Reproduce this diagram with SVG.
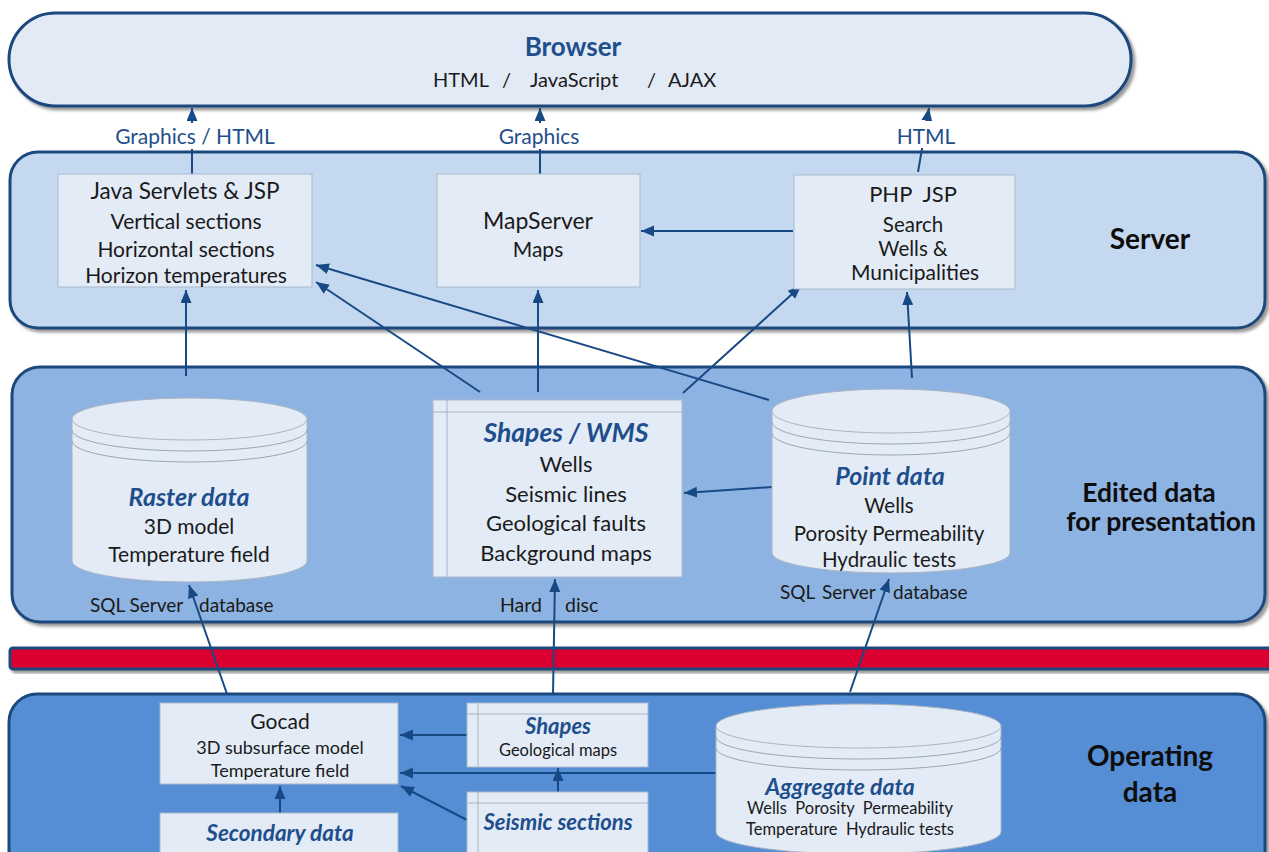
<svg xmlns="http://www.w3.org/2000/svg" width="1269" height="852" viewBox="0 0 1269 852">
  <style>
    .band { stroke: #1f497d; stroke-width: 3; filter: url(#shadow); }
    .box { fill: #e3ebf6; stroke: #a9b9cc; stroke-width: 1; }
    .drum { fill: #e3ebf6; stroke: #aab4c2; stroke-width: 1; }
    .ring { fill: none; stroke: #9aa6b6; stroke-width: 1; }
    .inner { fill: none; stroke: #a9b4c4; stroke-width: 1; }
    .wire { fill: none; stroke: #174a85; stroke-width: 2; marker-end: url(#head); }
    text { font-family: Lato, "Liberation Sans", sans-serif; fill: #1a1a1a; }
    .c { text-anchor: middle; }
    .title { font-weight: bold; font-style: italic; fill: #1f4e8c; }
    .layer { font-weight: bold; fill: #0d0d0d; }
    .lbl { fill: #1f4e8c; }
  </style>
  <defs>
    <filter id="shadow" x="-5%" y="-10%" width="110%" height="130%">
      <feDropShadow dx="3" dy="3" stdDeviation="1.5" flood-color="#555" flood-opacity="0.6"/>
    </filter>
    <marker id="head" markerUnits="userSpaceOnUse" markerWidth="14" markerHeight="12" refX="13" refY="5.5" orient="auto">
      <path d="M0,0 L13,5.5 L0,11 Z" fill="#174a85"/>
    </marker>
  </defs>

  <!-- layer bands -->
  <g id="bands">
    <rect id="browser-band" class="band" x="9" y="13" width="1122" height="93" rx="46.5" fill="#e2eaf5"/>
    <rect id="server-band" class="band" x="10" y="152" width="1255" height="176" rx="28" fill="#c4d8ef"/>
    <rect id="edited-band" class="band" x="12" y="367" width="1253" height="255" rx="28" fill="#8db3e2"/>
    <rect id="divider" class="band" x="10" y="648" width="1262" height="21" rx="3" fill="#dc0032"/>
    <rect id="operating-band" class="band" x="9" y="694" width="1256" height="200" rx="28" fill="#558ed5"/>
  </g>

  <!-- connectors -->
  <g id="connectors">
    <line class="wire" x1="192" y1="174" x2="192" y2="108"/>
    <line class="wire" x1="540" y1="174" x2="540" y2="108"/>
    <line class="wire" x1="918" y1="172" x2="929" y2="108"/>
    <line class="wire" x1="793" y1="231" x2="641" y2="231"/>
    <line class="wire" x1="186" y1="376" x2="186" y2="290"/>
    <line class="wire" x1="480" y1="392" x2="316" y2="282"/>
    <line class="wire" x1="538" y1="392" x2="538" y2="290"/>
    <line class="wire" x1="683" y1="393" x2="801" y2="286"/>
    <line class="wire" x1="769" y1="400" x2="316" y2="265"/>
    <line class="wire" x1="912" y1="378" x2="907" y2="292"/>
    <line class="wire" x1="772" y1="487" x2="684" y2="493"/>
    <line class="wire" x1="227" y1="694" x2="189" y2="585"/>
    <line class="wire" x1="553" y1="694" x2="555" y2="579"/>
    <line class="wire" x1="850" y1="692" x2="889" y2="579"/>
    <line class="wire" x1="467" y1="735" x2="400" y2="735"/>
    <line class="wire" x1="716" y1="773" x2="400" y2="773"/>
    <line class="wire" x1="558" y1="792" x2="558" y2="768"/>
    <line class="wire" x1="467" y1="820" x2="401" y2="786"/>
    <line class="wire" x1="280" y1="813" x2="280" y2="786"/>
  </g>

  <!-- browser -->
  <g id="browser">
    <text class="c" x="573" y="56" font-size="26" font-weight="bold" style="fill:#1f4e8c">Browser</text>
    <text x="433" y="87" font-size="20">HTML</text>
    <text x="502" y="87" font-size="20">/</text>
    <text x="530" y="87" font-size="20">JavaScript</text>
    <text x="647" y="87" font-size="20">/</text>
    <text x="668" y="87" font-size="20">AJAX</text>
  </g>

  <!-- flow labels between browser and server -->
  <g id="flow-labels">
    <rect x="112" y="123" width="166" height="26" fill="#ffffff"/>
    <text class="c lbl" x="195" y="144" font-size="21">Graphics / HTML</text>
    <rect x="494" y="123" width="92" height="26" fill="#ffffff"/>
    <text class="c lbl" x="539" y="144" font-size="21">Graphics</text>
    <rect x="891" y="121" width="70" height="27" fill="#ffffff"/>
    <text class="c lbl" x="926" y="144" font-size="21">HTML</text>
  </g>

  <!-- server tier -->
  <g id="java-servlets">
    <rect class="box" x="58" y="174" width="254" height="113"/>
    <text class="c" x="185" y="199" font-size="22.5">Java Servlets &amp; JSP</text>
    <text class="c" x="186" y="229" font-size="21">Vertical sections</text>
    <text class="c" x="186" y="257" font-size="21">Horizontal sections</text>
    <text class="c" x="186" y="283" font-size="21">Horizon temperatures</text>
  </g>
  <g id="mapserver">
    <rect class="box" x="437" y="174" width="203" height="113"/>
    <text class="c" x="538" y="229" font-size="23">MapServer</text>
    <text class="c" x="538" y="257" font-size="21">Maps</text>
  </g>
  <g id="php-jsp">
    <rect class="box" x="794" y="175" width="221" height="114"/>
    <text class="c" x="913" y="202" font-size="22" xml:space="preserve">PHP  JSP</text>
    <text class="c" x="913" y="232" font-size="20.5">Search</text>
    <text class="c" x="913" y="256" font-size="20.5">Wells &amp;</text>
    <text class="c" x="915" y="280" font-size="21">Municipalities</text>
  </g>
  <text class="c layer" x="1150" y="249" font-size="28">Server</text>

  <!-- edited data tier -->
  <g id="raster-data">
    <path class="drum" d="M72,419 L72,561 A117.5,21 0 0 0 307,561 L307,419 Z"/>
    <ellipse class="drum" cx="189.5" cy="419" rx="117.5" ry="21"/>
    <path class="ring" d="M72,430 A117.5,21 0 0 0 307,430 M72,441 A117.5,21 0 0 0 307,441"/>
    <text class="c title" x="189" y="506" font-size="25">Raster data</text>
    <text class="c" x="189" y="534" font-size="21">3D model</text>
    <text class="c" x="189" y="562" font-size="21">Temperature field</text>
    <text x="90" y="612" font-size="19">SQL Server</text>
    <text x="199" y="612" font-size="19">database</text>
  </g>
  <g id="shapes-wms">
    <rect class="box" x="433" y="400" width="249" height="177"/>
    <path class="inner" d="M433,412 H682 M447,400 V577"/>
    <text class="c title" x="566" y="442" font-size="26.5">Shapes / WMS</text>
    <text class="c" x="566" y="472" font-size="22">Wells</text>
    <text class="c" x="566" y="502" font-size="22">Seismic lines</text>
    <text class="c" x="566" y="531" font-size="22">Geological faults</text>
    <text class="c" x="566" y="561" font-size="22">Background maps</text>
    <text x="500" y="612" font-size="19.5">Hard</text>
    <text x="565" y="612" font-size="19.5">disc</text>
  </g>
  <g id="point-data">
    <path class="drum" d="M772,411 L772,553 A119,20 0 0 0 1010,553 L1010,411 Z"/>
    <ellipse class="drum" cx="891" cy="411" rx="119" ry="22"/>
    <path class="ring" d="M772,422 A119,22 0 0 0 1010,422 M772,433 A119,22 0 0 0 1010,433"/>
    <text class="c title" x="890" y="485" font-size="25">Point data</text>
    <text class="c" x="889" y="513" font-size="20.5">Wells</text>
    <text class="c" x="889" y="541" font-size="20.5">Porosity Permeability</text>
    <text class="c" x="889" y="567" font-size="20.5">Hydraulic tests</text>
    <text x="780" y="599" font-size="19">SQL</text>
    <text x="822" y="599" font-size="19">Server</text>
    <text x="893" y="599" font-size="19">database</text>
  </g>
  <text class="c layer" x="1149" y="502" font-size="26.5">Edited data</text>
  <text class="c layer" x="1161" y="531" font-size="26.5">for presentation</text>

  <!-- operating data tier -->
  <g id="gocad">
    <rect class="box" x="160" y="703" width="238" height="81"/>
    <text class="c" x="280" y="729" font-size="21">Gocad</text>
    <text class="c" x="280" y="754" font-size="18">3D subsurface model</text>
    <text class="c" x="280" y="777" font-size="18">Temperature field</text>
  </g>
  <g id="shapes">
    <rect class="box" x="467" y="703" width="181" height="64"/>
    <path class="inner" d="M467,714 H648 M478,703 V767"/>
    <text class="c title" x="558" y="734" font-size="22">Shapes</text>
    <text class="c" x="558" y="756" font-size="16.5">Geological maps</text>
  </g>
  <g id="seismic-sections">
    <rect class="box" x="467" y="792" width="181" height="70"/>
    <path class="inner" d="M467,803 H648 M478,792 V862"/>
    <text class="c title" x="558" y="830" font-size="22">Seismic sections</text>
  </g>
  <g id="secondary-data">
    <rect class="box" x="160" y="813" width="238" height="50"/>
    <text class="c title" x="280" y="841" font-size="22.5">Secondary data</text>
  </g>
  <g id="aggregate-data">
    <path class="drum" d="M716,726 L716,832 A142.5,22 0 0 0 1001,832 L1001,726 Z"/>
    <ellipse class="drum" cx="858.5" cy="726" rx="142.5" ry="22"/>
    <path class="ring" d="M716,737 A142.5,22 0 0 0 1001,737 M716,748 A142.5,22 0 0 0 1001,748"/>
    <text class="c title" x="840" y="795" font-size="23">Aggregate data</text>
    <text class="c" x="850" y="814" font-size="16.5" xml:space="preserve">Wells  Porosity  Permeability</text>
    <text class="c" x="850" y="835" font-size="16.5" xml:space="preserve">Temperature  Hydraulic tests</text>
  </g>
  <text class="c layer" x="1150" y="766" font-size="28">Operating</text>
  <text class="c layer" x="1150" y="802" font-size="28">data</text>
</svg>
